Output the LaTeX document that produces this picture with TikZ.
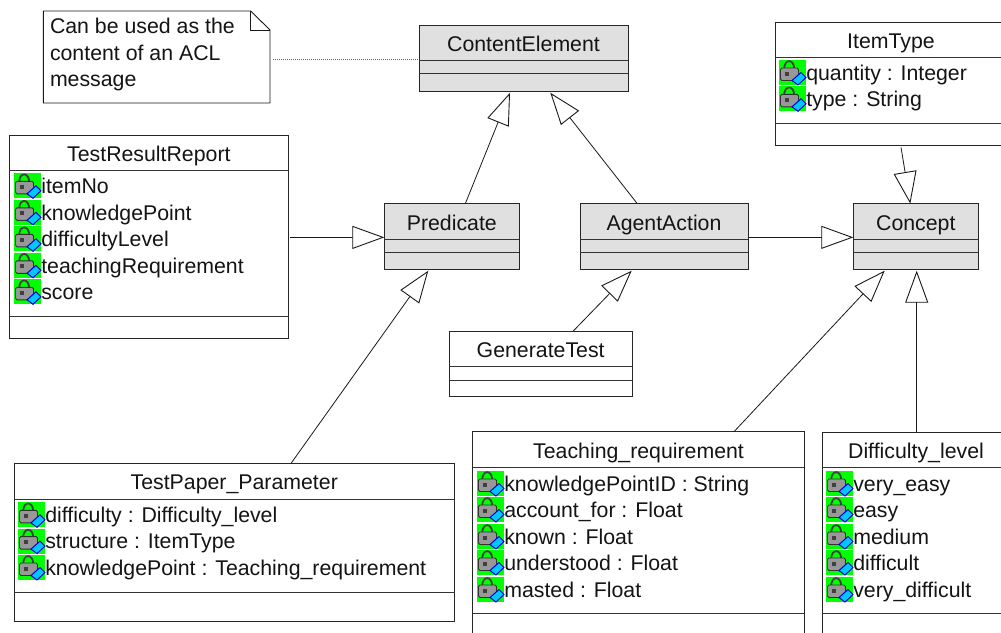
\documentclass[tikz,border=0pt]{standalone}
\usepackage{fontspec}
\setmainfont{Liberation Sans}
\usetikzlibrary{arrows.meta}
\definecolor{umlgray}{HTML}{E0E0E0}
\definecolor{icongreen}{HTML}{00FF00}
\definecolor{iconcyan}{HTML}{00C8FF}
\definecolor{iconblue}{HTML}{0000E0}
\definecolor{lockgray}{HTML}{989898}
\tikzset{
  x=1pt,y=-1pt,
  umlfont/.style={font=\fontsize{21.3}{26.7}\selectfont,text=black!92},
  classnode/.style={draw=black!85,line width=.9pt,inner sep=0,outer sep=0,rectangle},
  sepline/.style={draw=black!80,line width=.9pt},
  titletext/.style={umlfont,anchor=base,inner sep=0,outer sep=0},
  attrtext/.style={umlfont,anchor=base west,inner sep=0,outer sep=0},
  gen/.style={draw=black!90,line width=.8pt,-{Triangle[open,length=32pt,width=23pt,line width=.9pt]}},
  notelink/.style={draw=black!60,line width=1pt,dash pattern=on 1pt off 1pt},
  attricon/.pic={
    \fill[icongreen] (0,0) rectangle (27,25);
    \draw[black!75,line width=1.8pt] (5.2,9) .. controls (5.2,-1.5) and (15.2,-1.5) .. (15.2,9);
    \draw[black!80,fill=lockgray,line width=.9pt,rounded corners=1.5pt] (1.5,8) rectangle (19.5,20.5);
    \fill[black!75] (6,11.5) rectangle (10,15.5);
    \draw[iconblue,fill=iconcyan,line width=1pt] (13,20.5) -- (22,12.5) -- (27,17.5) -- (19,25) -- cycle;
  }
}
% id, x1, y1, x2, y2, sep1, sep2, title, fill
\newcommand{\classbox}[9]{%
  \pgfmathsetmacro{\cbx}{(#2+#4)/2}%
  \pgfmathsetmacro{\cby}{(#3+#5)/2}%
  \pgfmathsetmacro{\cbw}{#4-#2}%
  \pgfmathsetmacro{\cbh}{#5-#3}%
  \pgfmathsetmacro{\cbs}{#6-#3}%
  \pgfmathsetmacro{\cbt}{#7-#3}%
  \pgfmathsetmacro{\cbb}{#3+26.4}%
  \node[classnode,fill=#9,minimum width=\cbw pt,minimum height=\cbh pt] (#1) at (\cbx,\cby) {};
  \node[titletext] (#1-title) at (\cbx,\cbb) {#8};
  \draw[sepline] ([yshift=-\cbs pt]#1.north west) -- ([yshift=-\cbs pt]#1.north east);
  \draw[sepline] ([yshift=-\cbt pt]#1.north west) -- ([yshift=-\cbt pt]#1.north east);
}
% id, icon left x, icon top y, text
\newcommand{\attrrow}[4]{%
  \pgfmathsetmacro{\arx}{#2+27.3}%
  \pgfmathsetmacro{\ary}{#3+20.2}%
  \pic at (#2,#3) {attricon};
  \node[attrtext] (#1) at (\arx,\ary) {#4};
}
\begin{document}
\begin{tikzpicture}
\useasboundingbox (0,0) rectangle (1001,632);
\clip (0,0) rectangle (1001,632);
\fill[white] (0,0) rectangle (1001,632);

% note
\node[inner sep=0,outer sep=0,minimum width=226.7pt,minimum height=92pt] (note) at (156.65,57) {};
\draw[black!90,line width=.9pt] (note.north west) -- ([xshift=-19.3pt]note.north east) -- ([yshift=-19pt]note.north east) -- (note.south east) -- (note.south west) -- cycle;
\draw[black!90,line width=.8pt] ([xshift=-19.3pt]note.north east) -- ([xshift=-19.3pt,yshift=-19pt]note.north east) -- ([yshift=-19pt]note.north east);
\node[umlfont,anchor=north west,align=left,inner sep=0,outer sep=0] (notetext) at (50,18) {Can be used as the\\content of an ACL\\message};

% classes
\classbox{ce}{419}{25}{628}{91}{60.7}{73.7}{ContentElement}{umlgray}
\classbox{pred}{384.3}{203.7}{519.3}{269}{239.3}{252.3}{Predicate}{umlgray}
\classbox{ac}{580}{203.7}{748}{269}{239.3}{252.3}{AgentAction}{umlgray}
\classbox{con}{853.3}{203.7}{978.3}{269}{239.3}{252.3}{Concept}{umlgray}
\classbox{it}{775}{22}{1007}{145.3}{57}{123.3}{ItemType}{white}
\classbox{tr}{9}{135}{288.7}{338}{170.3}{316}{TestResultReport}{white}
\classbox{gt}{449.3}{331}{632}{396.7}{366.7}{380}{GenerateTest}{white}
\classbox{tp}{14}{463}{454.5}{621}{499}{592}{TestPaper\_Parameter}{white}
\classbox{tq}{472.8}{431.7}{804.3}{652}{467.7}{613.3}{Teaching\_requirement}{white}
\classbox{dl}{822}{432}{1010}{652}{467.7}{613.3}{Difficulty\_level}{white}

% attributes
\attrrow{it1}{779}{60}{quantity : Integer}
\attrrow{it2}{779}{86.3}{type : String}
\attrrow{tr1}{14}{173.3}{itemNo}
\attrrow{tr2}{14}{199.8}{knowledgePoint}
\attrrow{tr3}{14}{226.3}{difficultyLevel}
\attrrow{tr4}{14}{252.8}{teachingRequirement}
\attrrow{tr5}{14}{279.3}{score}
\attrrow{tp1}{18}{502.3}{difficulty : Difficulty\_level}
\attrrow{tp2}{18}{528.6}{structure : ItemType}
\attrrow{tp3}{18}{555}{knowledgePoint : Teaching\_requirement}
\attrrow{tq1}{477}{471}{knowledgePointID : String}
\attrrow{tq2}{477}{497}{account\_for : Float}
\attrrow{tq3}{477}{524}{known : Float}
\attrrow{tq4}{477}{550}{understood : Float}
\attrrow{tq5}{477}{577}{masted : Float}
\attrrow{dl1}{826}{471}{very\_easy}
\attrrow{dl2}{826}{497}{easy}
\attrrow{dl3}{826}{524}{medium}
\attrrow{dl4}{826}{550}{difficult}
\attrrow{dl5}{826}{577}{very\_difficult}

% connectors
\draw[notelink] ([xshift=3pt,yshift=-2pt]note.east) -- ([yshift=-1pt]ce.west);
\draw[gen] ([xshift=81pt]pred.north west) -- ([xshift=91pt,yshift=-1.7pt]ce.south west);
\draw[gen] ([xshift=57.3pt]ac.north west) -- ([xshift=131.3pt,yshift=-1.7pt]ce.south west);
\draw[gen] ([xshift=126pt,yshift=-2pt]it.south west) -- ([xshift=57pt]con.north west);
\draw[gen] ([xshift=1pt,yshift=-1pt]ac.east) -- ([yshift=-1pt]con.west);
\draw[gen] ([xshift=1.5pt,yshift=-1pt]tr.east) -- ([yshift=-1pt]pred.west);
\draw[gen] ([xshift=277.3pt]tp.north west) -- ([xshift=44pt,yshift=-1.7pt]pred.south west);
\draw[gen] ([xshift=124pt]gt.north west) -- ([xshift=51.7pt,yshift=-1.7pt]ac.south west);
\draw[gen] ([xshift=261.2pt]tq.north west) -- ([xshift=31.4pt,yshift=-1.7pt]con.south west);
\draw[gen] ([xshift=94.7pt]dl.north west) -- ([xshift=63.4pt,yshift=-1.7pt]con.south west);
\end{tikzpicture}
\end{document}
